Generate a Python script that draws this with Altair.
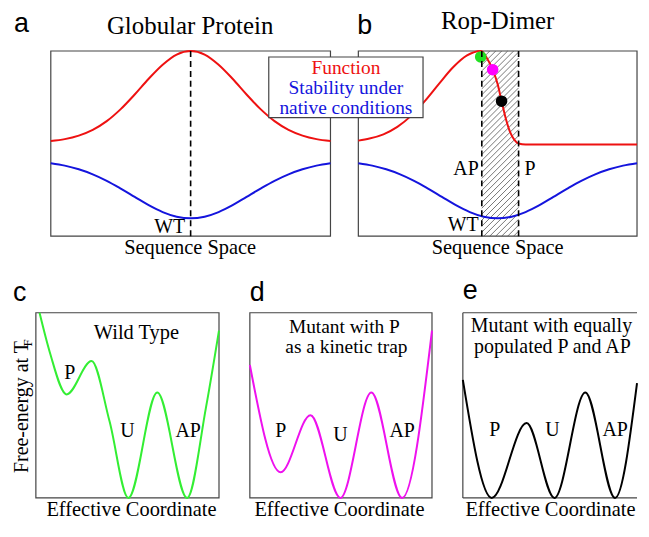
import altair as alt
import pandas as pd

# ---------------- data ----------------
# panels a/b : sequence space (fractions of the panel box)
seq_x = [0.0, 0.05, 0.10, 0.15, 0.20, 0.25, 0.30, 0.35, 0.40, 0.45, 0.50,
         0.55, 0.60, 0.65, 0.70, 0.75, 0.80, 0.85, 0.90, 0.95, 1.0]
func_globular = [0.514, 0.524, 0.543, 0.574, 0.621, 0.686, 0.765, 0.850, 0.926, 0.981, 1.0,
                 0.981, 0.926, 0.850, 0.765, 0.686, 0.621, 0.574, 0.543, 0.524, 0.514]
stability = [0.394, 0.381, 0.361, 0.334, 0.299, 0.257, 0.212, 0.167, 0.130, 0.105, 0.096,
             0.105, 0.130, 0.167, 0.212, 0.257, 0.299, 0.334, 0.361, 0.381, 0.394]
rop_x = [0.0, 0.04, 0.09, 0.14, 0.19, 0.24, 0.29, 0.34, 0.39, 0.44, 0.46, 0.482, 0.50,
         0.514, 0.53, 0.545, 0.56, 0.575, 0.60, 0.70, 0.80, 0.90, 1.0]
func_rop = [0.516, 0.527, 0.550, 0.590, 0.651, 0.732, 0.824, 0.912, 0.976, 1.0, 0.965, 0.899, 0.82,
            0.729, 0.63, 0.56, 0.52, 0.50, 0.495, 0.495, 0.495, 0.495, 0.495]
wt_position = [0.5]
ap_p_boundaries = [0.443, 0.575]
dot_x = [0.439, 0.482, 0.514]
dot_y = [0.968, 0.899, 0.729]
dot_kind = ["wild type", "mutant 1", "mutant 2"]

# panels c/d/e : free-energy landscapes
c_x = [0.02, 0.076, 0.168, 0.304, 0.402, 0.505, 0.663, 0.826, 0.929, 1.0]
c_y = [1.0, 0.787, 0.559, 0.739, 0.415, 0.0, 0.569, 0.0, 0.489, 0.904]
d_x = [0.0, 0.169, 0.333, 0.497, 0.667, 0.836, 1.0]
d_y = [0.718, 0.138, 0.447, 0.0, 0.569, 0.0, 0.904]
e_x = [0.0, 0.166, 0.366, 0.526, 0.703, 0.874, 1.0]
e_y = [0.638, 0.0, 0.404, 0.0, 0.569, 0.0, 0.62]

# ---------------- styles ----------------
SERIF = "Liberation Serif"
SANS = "Liberation Sans"
RED = "#ee1111"
BLUE = "#1414dd"
FRAME = "#444444"
AOFF = 15            # left indent of the top row relative to the bottom row
AW, BW = 281, 280
CW, DW, EW = 184, 183, 175
PH = 186             # panel height (all panels)

one = pd.DataFrame({"k": [0]})
XS = alt.Scale(domain=[0, 1], nice=False, zero=False)
XS_A = alt.Scale(domain=[-AOFF / AW, 1], nice=False, zero=False)
YS = alt.Scale(domain=[0, 1], nice=False, zero=False)


def txt(s, x, y, size=20.5, align="center", font=SERIF, color="black", angle=0):
    m = alt.Chart(one).mark_text(text=s, align=align, baseline="alphabetic",
                                 font=font, fontSize=size, color=color, angle=angle)
    return m.encode(x=alt.value(x), y=alt.value(y))


def frame(w, h, x0=0):
    return alt.Chart(one).mark_rect(fillOpacity=0, stroke=FRAME, strokeWidth=1.2).encode(
        x=alt.value(x0), x2=alt.value(x0 + w), y=alt.value(0), y2=alt.value(h))


def curve(xs, ys, color, xs_scale=XS):
    df = pd.DataFrame({"x": xs, "y": ys})
    return alt.Chart(df).mark_line(color=color, strokeWidth=2, interpolate="monotone").encode(
        x=alt.X("x:Q", scale=xs_scale, axis=None), y=alt.Y("y:Q", scale=YS, axis=None))


def dashed(xs, h, xs_scale=XS):
    df = pd.DataFrame({"x": xs})
    return alt.Chart(df).mark_rule(color="black", strokeWidth=1.6, strokeDash=[6, 4]).encode(
        x=alt.X("x:Q", scale=xs_scale, axis=None), y=alt.value(0), y2=alt.value(h))


# ---------------- panel a ----------------
panel_a = alt.layer(
    frame(AW, PH, AOFF),
    curve(seq_x, func_globular, RED, XS_A),
    curve(seq_x, stability, BLUE, XS_A),
    dashed(wt_position, PH, XS_A),
    txt("WT", AOFF + 135, PH - 3, size=20, align="right"),
    txt("a", AOFF - 37, -19.5, size=27, align="left", font=SANS),
    txt("Globular Protein", AOFF + 140, -17, size=25),
    txt("Sequence Space", AOFF + 140, PH + 18),
).properties(width=AW + AOFF, height=PH)

# ---------------- panel b ----------------
HATCH_STEP = 6
x0p, x1p = ap_p_boundaries[0] * BW, ap_p_boundaries[1] * BW
rows = []
cc = x0p + 2
while cc < x1p + PH:
    xa = max(x0p, cc - PH)
    xb = min(x1p, cc)
    if xb > xa:
        rows.append({"hx": xa / BW, "hy": 1 - (cc - xa) / PH,
                     "hx2": xb / BW, "hy2": 1 - (cc - xb) / PH})
    cc += HATCH_STEP
hatch_df = pd.DataFrame(rows)
hatch = alt.Chart(hatch_df).mark_rule(color="#555555", strokeWidth=0.8).encode(
    x=alt.X("hx:Q", scale=XS, axis=None), y=alt.Y("hy:Q", scale=YS, axis=None),
    x2="hx2:Q", y2="hy2:Q")

dots_df = pd.DataFrame({"x": dot_x, "y": dot_y, "kind": dot_kind})
dots = alt.Chart(dots_df).mark_circle(size=135, opacity=1).encode(
    x=alt.X("x:Q", scale=XS, axis=None), y=alt.Y("y:Q", scale=YS, axis=None),
    color=alt.Color("kind:N", scale=alt.Scale(domain=dot_kind,
                                              range=["#22e022", "#ff00ff", "#000000"]),
                    legend=None))

legend_box = alt.Chart(one).mark_rect(fill="white", stroke=FRAME, strokeWidth=1.2).encode(
    x=alt.value(-90), x2=alt.value(65), y=alt.value(6), y2=alt.value(67))

panel_b = alt.layer(
    frame(BW, PH),
    hatch,
    curve(rop_x, func_rop, RED),
    curve(seq_x, stability, BLUE),
    dots,
    dashed(ap_p_boundaries, PH),
    txt("AP", 121, 125, size=20, align="right"),
    txt("P", 167, 125, size=20, align="left"),
    txt("WT", 121, PH - 5, size=20, align="right"),
    txt("b", -1, -17, size=27, align="left", font=SANS),
    txt("Rop-Dimer", 140, -22, size=25),
    txt("Sequence Space", 140, PH + 18),
    legend_box,
    txt("Function", -12.5, 23, size=19.5, color=RED),
    txt("Stability under", -12.5, 43, size=19.5, color=BLUE),
    txt("native conditions", -12.5, 63, size=19.5, color=BLUE),
).properties(width=BW, height=PH)

# ---------------- panel c ----------------
panel_c = alt.layer(
    frame(CW, PH),
    curve(c_x, c_y, "#33ee33"),
    txt("Wild Type", 101, 26),
    txt("P", 34, 67, size=20),
    txt("U", 92, 125, size=20),
    txt("AP", 153, 125, size=20),
    txt("c", -23, -12, size=27, align="left", font=SANS),
    txt("Free-energy at T", -8, 161, size=20, align="left", angle=270),
    txt("F", -4, 34, size=13, align="left", angle=270),
    txt("Effective Coordinate", 96, PH + 18),
).properties(width=CW, height=PH)

# ---------------- panel d ----------------
panel_d = alt.layer(
    frame(DW, PH),
    curve(d_x, d_y, "#ee11ee"),
    txt("Mutant with P", 95, 20, size=19.5),
    txt("as a kinetic trap", 97, 40, size=19.5),
    txt("P", 31, 125, size=20),
    txt("U", 91, 129, size=20),
    txt("AP", 153, 125, size=20),
    txt("d", 0, -12, size=27, align="left", font=SANS),
    txt("Effective Coordinate", 90, PH + 18),
).properties(width=DW, height=PH)

# ---------------- panel e (clipped at the right in the original) ----------------
e_frame = alt.layer(
    alt.Chart(one).mark_rule(color=FRAME, strokeWidth=1.2).encode(
        x=alt.value(0), x2=alt.value(EW), y=alt.value(0)),
    alt.Chart(one).mark_rule(color=FRAME, strokeWidth=1.2).encode(
        x=alt.value(0), x2=alt.value(EW), y=alt.value(PH)),
    alt.Chart(one).mark_rule(color=FRAME, strokeWidth=1.2).encode(
        x=alt.value(0), y=alt.value(0), y2=alt.value(PH)),
)
panel_e = alt.layer(
    e_frame,
    curve(e_x, e_y, "black"),
    txt("Mutant with equally", 89, 19, size=20),
    txt("populated P and AP", 90, 40, size=20),
    txt("P", 32, 124, size=20),
    txt("U", 90, 124, size=20),
    txt("AP", 153, 124, size=20),
    txt("e", 0, -14, size=27, align="left", font=SANS),
    txt("Effective Coordinate", 88, PH + 18),
).properties(width=EW, height=PH)

top = alt.hconcat(panel_a, panel_b, spacing=28, bounds="flush")
bottom = alt.hconcat(panel_c, panel_d, panel_e, spacing=31, bounds="flush")

chart = alt.vconcat(top, bottom, spacing=18).properties(
    padding={"left": 3, "top": 0, "right": 0, "bottom": -1}
).configure_view(stroke=None)

chart.save("out.html", embed_options={"renderer": "svg", "actions": False})
